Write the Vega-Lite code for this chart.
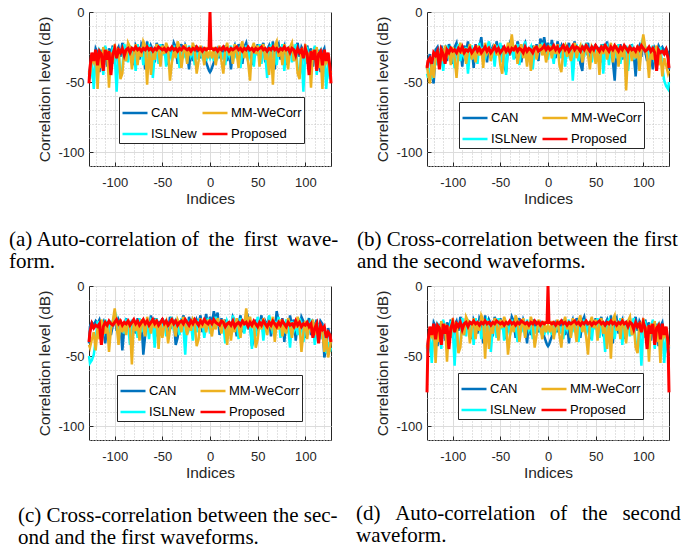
{
"$schema":"https://vega.github.io/schema/vega-lite/v6.json",
"background":"white",
"padding":{"left":8,"top":5,"right":0,"bottom":0},
"config":{
"font":"Liberation Sans",
"view":{"stroke":"#262626","strokeWidth":1},
"line":{"strokeWidth":2.5},
"axis":{"domain":false,"labelFont":"Liberation Sans","labelFontSize":13,"labelColor":"#262626","titleFont":"Liberation Sans","titleFontSize":15.5,"titleFontWeight":"normal","titleColor":"#262626","tickColor":"#262626","tickSize":-4,"gridWidth":1,"labelOverlap":false,"labelFlush":false},
"axisX":{"labelPadding":14,"titlePadding":2},
"axisY":{"labelPadding":9,"titlePadding":5},
"legend":{"strokeColor":"#262626","fillColor":"white","padding":2,"labelFont":"Liberation Sans","labelFontSize":13,"labelColor":"black","symbolType":"stroke","symbolSize":625,"symbolStrokeWidth":3.5,"rowPadding":-6,"columnPadding":0,"labelOffset":2,"gridAlign":"each","cornerRadius":0,"orient":"none","columns":2},
"title":{"font":"Liberation Serif","fontSize":21,"fontWeight":"normal","color":"black","orient":"bottom","anchor":"start","frame":"group","lineHeight":22}
},
"datasets":{
"a":[
{"i":-127,"C":-44,"I":-44,"M":-42,"P":-51},{"i":-126,"C":-41,"I":-48,"M":-45,"P":-40},{"i":-124,"C":-31,"I":-36,"M":-33,"P":-29},{"i":-122,"C":-36,"I":-55,"M":-36,"P":-35},{"i":-120,"C":-26,"I":-31,"M":-28,"P":-27},{"i":-118,"C":-29,"I":-40,"M":-55,"P":-38},{"i":-116,"C":-43,"I":-27,"M":-30,"P":-28},{"i":-114,"C":-27,"I":-29,"M":-40,"P":-30},{"i":-112,"C":-33,"I":-45,"M":-25,"P":-42},{"i":-110,"C":-25,"I":-24,"M":-33,"P":-27},{"i":-108,"C":-39,"I":-33,"M":-27,"P":-34},{"i":-106,"C":-26,"I":-28,"M":-54,"P":-28},{"i":-104,"C":-30,"I":-38,"M":-29,"P":-45},{"i":-102,"C":-24,"I":-25,"M":-36,"P":-30},{"i":-100,"C":-37,"I":-30,"M":-23,"P":-26},{"i":-98,"C":-28,"I":-57,"M":-31,"P":-33},{"i":-96,"C":-25,"I":-27,"M":-26,"P":-27},{"i":-94,"C":-32,"I":-47,"M":-48,"P":-29},{"i":-92,"C":-22,"I":-40,"M":-44,"P":-26},{"i":-90,"C":-26,"I":-23,"M":-28,"P":-31},{"i":-88,"C":-35,"I":-28,"M":-35,"P":-27},{"i":-86,"C":-23,"I":-36,"M":-22,"P":-26},{"i":-84,"C":-30,"I":-24,"M":-25,"P":-29},{"i":-82,"C":-25,"I":-31,"M":-41,"P":-26},{"i":-80,"C":-38,"I":-27,"M":-29,"P":-27},{"i":-78,"C":-24,"I":-42,"M":-23,"P":-25},{"i":-76,"C":-27,"I":-23,"M":-38,"P":-27},{"i":-74,"C":-34,"I":-30,"M":-26,"P":-26},{"i":-72,"C":-23,"I":-25,"M":-32,"P":-28},{"i":-70,"C":-26,"I":-38,"M":-21,"P":-26},{"i":-68,"C":-41,"I":-28,"M":-24,"P":-27},{"i":-66,"C":-21,"I":-33,"M":-52,"P":-25},{"i":-64,"C":-31,"I":-24,"M":-25,"P":-27},{"i":-62,"C":-24,"I":-26,"M":-45,"P":-26},{"i":-60,"C":-27,"I":-47,"M":-29,"P":-28},{"i":-58,"C":-36,"I":-30,"M":-34,"P":-26},{"i":-56,"C":-22,"I":-27,"M":-23,"P":-27},{"i":-54,"C":-26,"I":-37,"M":-27,"P":-25},{"i":-52,"C":-33,"I":-23,"M":-39,"P":-26},{"i":-50,"C":-23,"I":-31,"M":-24,"P":-27},{"i":-48,"C":-29,"I":-25,"M":-30,"P":-26},{"i":-46,"C":-24,"I":-39,"M":-22,"P":-28},{"i":-44,"C":-38,"I":-26,"M":-26,"P":-26},{"i":-42,"C":-26,"I":-28,"M":-49,"P":-27},{"i":-40,"C":-30,"I":-35,"M":-36,"P":-25},{"i":-38,"C":-22,"I":-24,"M":-28,"P":-27},{"i":-36,"C":-25,"I":-30,"M":-33,"P":-26},{"i":-34,"C":-37,"I":-27,"M":-21,"P":-28},{"i":-32,"C":-27,"I":-40,"M":-25,"P":-26},{"i":-30,"C":-23,"I":-25,"M":-40,"P":-27},{"i":-28,"C":-31,"I":-33,"M":-29,"P":-25},{"i":-26,"C":-24,"I":-28,"M":-23,"P":-26},{"i":-24,"C":-28,"I":-36,"M":-37,"P":-27},{"i":-22,"C":-41,"I":-24,"M":-26,"P":-26},{"i":-20,"C":-26,"I":-31,"M":-31,"P":-28},{"i":-18,"C":-35,"I":-27,"M":-22,"P":-26},{"i":-16,"C":-24,"I":-38,"M":-27,"P":-27},{"i":-14,"C":-29,"I":-29,"M":-44,"P":-25},{"i":-12,"C":-25,"I":-34,"M":-35,"P":-27},{"i":-10,"C":-33,"I":-26,"M":-24,"P":-26},{"i":-8,"C":-27,"I":-32,"M":-29,"P":-28},{"i":-6,"C":-31,"I":-28,"M":-38,"P":-26},{"i":-4,"C":-36,"I":-35,"M":-25,"P":-27},{"i":-2,"C":-40,"I":-30,"M":-33,"P":-26},{"i":-1,"C":-42,"I":-31,"M":-30,"P":-26},
{"i":0,"C":-43,"I":-33,"M":-28,"P":0},
{"i":1,"C":-42,"I":-31,"M":-30,"P":-26},{"i":2,"C":-40,"I":-30,"M":-33,"P":-26},{"i":4,"C":-36,"I":-35,"M":-25,"P":-27},{"i":6,"C":-31,"I":-28,"M":-38,"P":-26},{"i":8,"C":-27,"I":-32,"M":-29,"P":-28},{"i":10,"C":-33,"I":-26,"M":-24,"P":-26},{"i":12,"C":-25,"I":-34,"M":-35,"P":-27},{"i":14,"C":-29,"I":-29,"M":-44,"P":-25},{"i":16,"C":-24,"I":-38,"M":-27,"P":-27},{"i":18,"C":-35,"I":-27,"M":-22,"P":-26},{"i":20,"C":-26,"I":-31,"M":-31,"P":-28},{"i":22,"C":-41,"I":-24,"M":-26,"P":-26},{"i":24,"C":-28,"I":-36,"M":-37,"P":-27},{"i":26,"C":-24,"I":-28,"M":-23,"P":-26},{"i":28,"C":-31,"I":-33,"M":-29,"P":-25},{"i":30,"C":-23,"I":-25,"M":-40,"P":-27},{"i":32,"C":-27,"I":-40,"M":-25,"P":-26},{"i":34,"C":-37,"I":-27,"M":-21,"P":-28},{"i":36,"C":-25,"I":-30,"M":-33,"P":-26},{"i":38,"C":-22,"I":-24,"M":-28,"P":-27},{"i":40,"C":-30,"I":-35,"M":-36,"P":-25},{"i":42,"C":-26,"I":-28,"M":-49,"P":-27},{"i":44,"C":-38,"I":-26,"M":-26,"P":-26},{"i":46,"C":-24,"I":-39,"M":-22,"P":-28},{"i":48,"C":-29,"I":-25,"M":-30,"P":-26},{"i":50,"C":-23,"I":-31,"M":-24,"P":-27},{"i":52,"C":-33,"I":-23,"M":-39,"P":-26},{"i":54,"C":-26,"I":-37,"M":-27,"P":-25},{"i":56,"C":-22,"I":-27,"M":-23,"P":-27},{"i":58,"C":-36,"I":-30,"M":-34,"P":-26},{"i":60,"C":-27,"I":-47,"M":-29,"P":-28},{"i":62,"C":-24,"I":-26,"M":-45,"P":-26},{"i":64,"C":-31,"I":-24,"M":-25,"P":-27},{"i":66,"C":-21,"I":-33,"M":-52,"P":-25},{"i":68,"C":-41,"I":-28,"M":-24,"P":-27},{"i":70,"C":-26,"I":-38,"M":-21,"P":-26},{"i":72,"C":-23,"I":-25,"M":-32,"P":-28},{"i":74,"C":-34,"I":-30,"M":-26,"P":-26},{"i":76,"C":-27,"I":-23,"M":-38,"P":-27},{"i":78,"C":-24,"I":-42,"M":-23,"P":-25},{"i":80,"C":-38,"I":-27,"M":-29,"P":-27},{"i":82,"C":-25,"I":-31,"M":-41,"P":-26},{"i":84,"C":-30,"I":-24,"M":-25,"P":-29},{"i":86,"C":-23,"I":-36,"M":-22,"P":-26},{"i":88,"C":-35,"I":-28,"M":-35,"P":-27},{"i":90,"C":-26,"I":-23,"M":-28,"P":-31},{"i":92,"C":-22,"I":-40,"M":-44,"P":-26},{"i":94,"C":-32,"I":-47,"M":-48,"P":-29},{"i":96,"C":-25,"I":-27,"M":-26,"P":-27},{"i":98,"C":-28,"I":-57,"M":-31,"P":-33},{"i":100,"C":-37,"I":-30,"M":-23,"P":-26},{"i":102,"C":-24,"I":-25,"M":-36,"P":-30},{"i":104,"C":-30,"I":-38,"M":-29,"P":-45},{"i":106,"C":-26,"I":-28,"M":-54,"P":-28},{"i":108,"C":-39,"I":-33,"M":-27,"P":-34},{"i":110,"C":-25,"I":-24,"M":-33,"P":-27},{"i":112,"C":-33,"I":-45,"M":-25,"P":-42},{"i":114,"C":-27,"I":-29,"M":-40,"P":-30},{"i":116,"C":-43,"I":-27,"M":-30,"P":-28},{"i":118,"C":-29,"I":-40,"M":-55,"P":-38},{"i":120,"C":-26,"I":-31,"M":-28,"P":-27},{"i":122,"C":-36,"I":-55,"M":-36,"P":-35},{"i":124,"C":-31,"I":-36,"M":-33,"P":-29},{"i":126,"C":-41,"I":-48,"M":-45,"P":-40},{"i":127,"C":-44,"I":-44,"M":-42,"P":-51}
],
"d":[
{"i":-127,"C":-44,"I":-44,"M":-42,"P":-76},{"i":-126,"C":-41,"I":-48,"M":-45,"P":-40},{"i":-124,"C":-31,"I":-36,"M":-33,"P":-29},{"i":-122,"C":-36,"I":-55,"M":-36,"P":-35},{"i":-120,"C":-26,"I":-31,"M":-28,"P":-27},{"i":-118,"C":-29,"I":-40,"M":-55,"P":-38},{"i":-116,"C":-43,"I":-27,"M":-30,"P":-28},{"i":-114,"C":-27,"I":-29,"M":-40,"P":-30},{"i":-112,"C":-33,"I":-45,"M":-25,"P":-42},{"i":-110,"C":-25,"I":-24,"M":-33,"P":-27},{"i":-108,"C":-39,"I":-33,"M":-27,"P":-34},{"i":-106,"C":-26,"I":-28,"M":-54,"P":-28},{"i":-104,"C":-30,"I":-38,"M":-29,"P":-45},{"i":-102,"C":-24,"I":-25,"M":-36,"P":-30},{"i":-100,"C":-37,"I":-30,"M":-23,"P":-26},{"i":-98,"C":-28,"I":-57,"M":-31,"P":-33},{"i":-96,"C":-25,"I":-27,"M":-26,"P":-27},{"i":-94,"C":-32,"I":-47,"M":-48,"P":-29},{"i":-92,"C":-22,"I":-40,"M":-44,"P":-26},{"i":-90,"C":-26,"I":-23,"M":-28,"P":-31},{"i":-88,"C":-35,"I":-28,"M":-35,"P":-27},{"i":-86,"C":-23,"I":-36,"M":-22,"P":-26},{"i":-84,"C":-30,"I":-24,"M":-25,"P":-29},{"i":-82,"C":-25,"I":-31,"M":-41,"P":-26},{"i":-80,"C":-38,"I":-27,"M":-29,"P":-27},{"i":-78,"C":-24,"I":-42,"M":-23,"P":-25},{"i":-76,"C":-27,"I":-23,"M":-38,"P":-27},{"i":-74,"C":-34,"I":-30,"M":-26,"P":-26},{"i":-72,"C":-23,"I":-25,"M":-32,"P":-28},{"i":-70,"C":-26,"I":-38,"M":-21,"P":-26},{"i":-68,"C":-41,"I":-28,"M":-24,"P":-27},{"i":-66,"C":-21,"I":-33,"M":-52,"P":-25},{"i":-64,"C":-31,"I":-24,"M":-25,"P":-27},{"i":-62,"C":-24,"I":-26,"M":-45,"P":-26},{"i":-60,"C":-27,"I":-47,"M":-29,"P":-28},{"i":-58,"C":-36,"I":-30,"M":-34,"P":-26},{"i":-56,"C":-22,"I":-27,"M":-23,"P":-27},{"i":-54,"C":-26,"I":-37,"M":-27,"P":-25},{"i":-52,"C":-33,"I":-23,"M":-39,"P":-26},{"i":-50,"C":-23,"I":-31,"M":-24,"P":-27},{"i":-48,"C":-29,"I":-25,"M":-30,"P":-26},{"i":-46,"C":-24,"I":-39,"M":-22,"P":-28},{"i":-44,"C":-38,"I":-26,"M":-26,"P":-26},{"i":-42,"C":-26,"I":-28,"M":-49,"P":-27},{"i":-40,"C":-30,"I":-35,"M":-36,"P":-25},{"i":-38,"C":-22,"I":-24,"M":-28,"P":-27},{"i":-36,"C":-25,"I":-30,"M":-33,"P":-26},{"i":-34,"C":-37,"I":-27,"M":-21,"P":-28},{"i":-32,"C":-27,"I":-40,"M":-25,"P":-26},{"i":-30,"C":-23,"I":-25,"M":-40,"P":-27},{"i":-28,"C":-31,"I":-33,"M":-29,"P":-25},{"i":-26,"C":-24,"I":-28,"M":-23,"P":-26},{"i":-24,"C":-28,"I":-36,"M":-37,"P":-27},{"i":-22,"C":-41,"I":-24,"M":-26,"P":-26},{"i":-20,"C":-26,"I":-31,"M":-31,"P":-28},{"i":-18,"C":-35,"I":-27,"M":-22,"P":-26},{"i":-16,"C":-24,"I":-38,"M":-27,"P":-27},{"i":-14,"C":-29,"I":-29,"M":-44,"P":-25},{"i":-12,"C":-25,"I":-34,"M":-35,"P":-27},{"i":-10,"C":-33,"I":-26,"M":-24,"P":-26},{"i":-8,"C":-27,"I":-32,"M":-29,"P":-28},{"i":-6,"C":-31,"I":-28,"M":-38,"P":-26},{"i":-4,"C":-36,"I":-35,"M":-25,"P":-27},{"i":-2,"C":-40,"I":-30,"M":-33,"P":-26},{"i":-1,"C":-42,"I":-31,"M":-30,"P":-26},
{"i":0,"C":-43,"I":-33,"M":-28,"P":0},
{"i":1,"C":-42,"I":-31,"M":-30,"P":-26},{"i":2,"C":-40,"I":-30,"M":-33,"P":-26},{"i":4,"C":-36,"I":-35,"M":-25,"P":-27},{"i":6,"C":-31,"I":-28,"M":-38,"P":-26},{"i":8,"C":-27,"I":-32,"M":-29,"P":-28},{"i":10,"C":-33,"I":-26,"M":-24,"P":-26},{"i":12,"C":-25,"I":-34,"M":-35,"P":-27},{"i":14,"C":-29,"I":-29,"M":-44,"P":-25},{"i":16,"C":-24,"I":-38,"M":-27,"P":-27},{"i":18,"C":-35,"I":-27,"M":-22,"P":-26},{"i":20,"C":-26,"I":-31,"M":-31,"P":-28},{"i":22,"C":-41,"I":-24,"M":-26,"P":-26},{"i":24,"C":-28,"I":-36,"M":-37,"P":-27},{"i":26,"C":-24,"I":-28,"M":-23,"P":-26},{"i":28,"C":-31,"I":-33,"M":-29,"P":-25},{"i":30,"C":-23,"I":-25,"M":-40,"P":-27},{"i":32,"C":-27,"I":-40,"M":-25,"P":-26},{"i":34,"C":-37,"I":-27,"M":-21,"P":-28},{"i":36,"C":-25,"I":-30,"M":-33,"P":-26},{"i":38,"C":-22,"I":-24,"M":-28,"P":-27},{"i":40,"C":-30,"I":-35,"M":-36,"P":-25},{"i":42,"C":-26,"I":-28,"M":-49,"P":-27},{"i":44,"C":-38,"I":-26,"M":-26,"P":-26},{"i":46,"C":-24,"I":-39,"M":-22,"P":-28},{"i":48,"C":-29,"I":-25,"M":-30,"P":-26},{"i":50,"C":-23,"I":-31,"M":-24,"P":-27},{"i":52,"C":-33,"I":-23,"M":-39,"P":-26},{"i":54,"C":-26,"I":-37,"M":-27,"P":-25},{"i":56,"C":-22,"I":-27,"M":-23,"P":-27},{"i":58,"C":-36,"I":-30,"M":-34,"P":-26},{"i":60,"C":-27,"I":-47,"M":-29,"P":-28},{"i":62,"C":-24,"I":-26,"M":-45,"P":-26},{"i":64,"C":-31,"I":-24,"M":-25,"P":-27},{"i":66,"C":-21,"I":-33,"M":-52,"P":-25},{"i":68,"C":-41,"I":-28,"M":-24,"P":-27},{"i":70,"C":-26,"I":-38,"M":-21,"P":-26},{"i":72,"C":-23,"I":-25,"M":-32,"P":-28},{"i":74,"C":-34,"I":-30,"M":-26,"P":-26},{"i":76,"C":-27,"I":-23,"M":-38,"P":-27},{"i":78,"C":-24,"I":-42,"M":-23,"P":-25},{"i":80,"C":-38,"I":-27,"M":-29,"P":-27},{"i":82,"C":-25,"I":-31,"M":-41,"P":-26},{"i":84,"C":-30,"I":-24,"M":-25,"P":-29},{"i":86,"C":-23,"I":-36,"M":-22,"P":-26},{"i":88,"C":-35,"I":-28,"M":-35,"P":-27},{"i":90,"C":-26,"I":-23,"M":-28,"P":-31},{"i":92,"C":-22,"I":-40,"M":-44,"P":-26},{"i":94,"C":-32,"I":-47,"M":-48,"P":-29},{"i":96,"C":-25,"I":-27,"M":-26,"P":-27},{"i":98,"C":-28,"I":-57,"M":-31,"P":-33},{"i":100,"C":-37,"I":-30,"M":-23,"P":-26},{"i":102,"C":-24,"I":-25,"M":-36,"P":-30},{"i":104,"C":-30,"I":-38,"M":-29,"P":-45},{"i":106,"C":-26,"I":-28,"M":-54,"P":-28},{"i":108,"C":-39,"I":-33,"M":-27,"P":-34},{"i":110,"C":-25,"I":-24,"M":-33,"P":-27},{"i":112,"C":-33,"I":-45,"M":-25,"P":-42},{"i":114,"C":-27,"I":-29,"M":-40,"P":-30},{"i":116,"C":-43,"I":-27,"M":-30,"P":-28},{"i":118,"C":-29,"I":-40,"M":-55,"P":-38},{"i":120,"C":-26,"I":-31,"M":-28,"P":-27},{"i":122,"C":-36,"I":-55,"M":-36,"P":-35},{"i":124,"C":-31,"I":-36,"M":-33,"P":-29},{"i":126,"C":-41,"I":-48,"M":-45,"P":-40},{"i":127,"C":-44,"I":-44,"M":-42,"P":-76}
],
"b":[
{"i":-127,"C":-41,"I":-44,"M":-38,"P":-40},{"i":-126,"C":-36,"I":-47,"M":-44,"P":-35},{"i":-124,"C":-30,"I":-40,"M":-51,"P":-33},{"i":-122,"C":-45,"I":-48,"M":-36,"P":-37},{"i":-120,"C":-51,"I":-35,"M":-47,"P":-29},{"i":-118,"C":-27,"I":-30,"M":-33,"P":-31},{"i":-116,"C":-25,"I":-38,"M":-28,"P":-28},{"i":-114,"C":-33,"I":-27,"M":-40,"P":-41},{"i":-112,"C":-24,"I":-31,"M":-26,"P":-27},{"i":-110,"C":-29,"I":-42,"M":-35,"P":-30},{"i":-108,"C":-26,"I":-28,"M":-24,"P":-37},{"i":-106,"C":-35,"I":-24,"M":-31,"P":-27},{"i":-104,"C":-23,"I":-33,"M":-27,"P":-29},{"i":-102,"C":-28,"I":-26,"M":-38,"P":-26},{"i":-100,"C":-37,"I":-30,"M":-25,"P":-28},{"i":-98,"C":-25,"I":-40,"M":-33,"P":-27},{"i":-96,"C":-22,"I":-27,"M":-47,"P":-29},{"i":-94,"C":-31,"I":-23,"M":-29,"P":-26},{"i":-92,"C":-26,"I":-35,"M":-22,"P":-28},{"i":-90,"C":-39,"I":-28,"M":-30,"P":-25},{"i":-88,"C":-24,"I":-32,"M":-26,"P":-29},{"i":-86,"C":-28,"I":-25,"M":-37,"P":-27},{"i":-84,"C":-21,"I":-44,"M":-28,"P":-28},{"i":-82,"C":-33,"I":-29,"M":-23,"P":-26},{"i":-80,"C":-26,"I":-24,"M":-34,"P":-29},{"i":-78,"C":-40,"I":-31,"M":-27,"P":-27},{"i":-76,"C":-23,"I":-27,"M":-36,"P":-25},{"i":-74,"C":-29,"I":-37,"M":-24,"P":-28},{"i":-72,"C":-25,"I":-22,"M":-31,"P":-26},{"i":-70,"C":-18,"I":-30,"M":-26,"P":-29},{"i":-68,"C":-31,"I":-25,"M":-40,"P":-27},{"i":-66,"C":-24,"I":-34,"M":-22,"P":-25},{"i":-64,"C":-36,"I":-27,"M":-29,"P":-28},{"i":-62,"C":-22,"I":-21,"M":-25,"P":-26},{"i":-60,"C":-28,"I":-33,"M":-35,"P":-29},{"i":-58,"C":-25,"I":-26,"M":-28,"P":-27},{"i":-56,"C":-34,"I":-39,"M":-23,"P":-25},{"i":-54,"C":-21,"I":-24,"M":-31,"P":-28},{"i":-52,"C":-27,"I":-29,"M":-26,"P":-26},{"i":-50,"C":-30,"I":-22,"M":-38,"P":-29},{"i":-48,"C":-24,"I":-36,"M":-44,"P":-27},{"i":-46,"C":-38,"I":-28,"M":-25,"P":-25},{"i":-44,"C":-43,"I":-45,"M":-30,"P":-28},{"i":-42,"C":-26,"I":-25,"M":-22,"P":-26},{"i":-40,"C":-22,"I":-31,"M":-27,"P":-29},{"i":-38,"C":-29,"I":-24,"M":-16,"P":-26},{"i":-36,"C":-24,"I":-34,"M":-28,"P":-27},{"i":-34,"C":-33,"I":-27,"M":-24,"P":-25},{"i":-32,"C":-21,"I":-23,"M":-37,"P":-28},{"i":-30,"C":-27,"I":-38,"M":-29,"P":-26},{"i":-28,"C":-36,"I":-26,"M":-23,"P":-27},{"i":-26,"C":-25,"I":-30,"M":-33,"P":-29},{"i":-24,"C":-22,"I":-21,"M":-27,"P":-25},{"i":-22,"C":-31,"I":-33,"M":-39,"P":-28},{"i":-20,"C":-26,"I":-28,"M":-25,"P":-26},{"i":-18,"C":-38,"I":-25,"M":-42,"P":-27},{"i":-16,"C":-24,"I":-41,"M":-28,"P":-29},{"i":-14,"C":-29,"I":-27,"M":-24,"P":-26},{"i":-12,"C":-23,"I":-32,"M":-34,"P":-25},{"i":-10,"C":-35,"I":-24,"M":-27,"P":-28},{"i":-8,"C":-19,"I":-29,"M":-23,"P":-27},{"i":-6,"C":-24,"I":-22,"M":-31,"P":-26},{"i":-4,"C":-18,"I":-30,"M":-26,"P":-24},{"i":-2,"C":-27,"I":-25,"M":-36,"P":-27},{"i":0,"C":-22,"I":-34,"M":-29,"P":-25},{"i":2,"C":-30,"I":-23,"M":-24,"P":-27},{"i":4,"C":-20,"I":-28,"M":-33,"P":-26},{"i":6,"C":-26,"I":-37,"M":-25,"P":-24},{"i":8,"C":-33,"I":-25,"M":-30,"P":-27},{"i":10,"C":-21,"I":-30,"M":-23,"P":-25},{"i":12,"C":-27,"I":-24,"M":-38,"P":-28},{"i":14,"C":-24,"I":-33,"M":-43,"P":-26},{"i":16,"C":-31,"I":-26,"M":-27,"P":-24},{"i":18,"C":-23,"I":-39,"M":-24,"P":-27},{"i":20,"C":-28,"I":-27,"M":-32,"P":-25},{"i":22,"C":-22,"I":-31,"M":-26,"P":-28},{"i":24,"C":-34,"I":-24,"M":-35,"P":-26},{"i":26,"C":-26,"I":-49,"M":-28,"P":-24},{"i":28,"C":-21,"I":-29,"M":-22,"P":-27},{"i":30,"C":-30,"I":-23,"M":-33,"P":-25},{"i":32,"C":-25,"I":-35,"M":-27,"P":-26},{"i":34,"C":-37,"I":-28,"M":-24,"P":-28},{"i":36,"C":-42,"I":-25,"M":-36,"P":-25},{"i":38,"C":-24,"I":-32,"M":-29,"P":-27},{"i":40,"C":-28,"I":-22,"M":-23,"P":-24},{"i":42,"C":-22,"I":-30,"M":-31,"P":-26},{"i":44,"C":-33,"I":-26,"M":-41,"P":-28},{"i":46,"C":-26,"I":-36,"M":-25,"P":-25},{"i":48,"C":-29,"I":-24,"M":-28,"P":-27},{"i":50,"C":-23,"I":-31,"M":-37,"P":-24},{"i":52,"C":-31,"I":-27,"M":-26,"P":-26},{"i":54,"C":-25,"I":-35,"M":-45,"P":-28},{"i":56,"C":-36,"I":-23,"M":-24,"P":-25},{"i":58,"C":-23,"I":-44,"M":-30,"P":-27},{"i":60,"C":-28,"I":-28,"M":-23,"P":-24},{"i":62,"C":-21,"I":-25,"M":-34,"P":-26},{"i":64,"C":-32,"I":-38,"M":-27,"P":-28},{"i":66,"C":-26,"I":-24,"M":-22,"P":-25},{"i":68,"C":-35,"I":-30,"M":-36,"P":-27},{"i":70,"C":-49,"I":-26,"M":-28,"P":-24},{"i":72,"C":-24,"I":-33,"M":-24,"P":-26},{"i":74,"C":-29,"I":-23,"M":-39,"P":-28},{"i":76,"C":-23,"I":-37,"M":-27,"P":-25},{"i":78,"C":-34,"I":-27,"M":-32,"P":-27},{"i":80,"C":-27,"I":-31,"M":-25,"P":-24},{"i":82,"C":-38,"I":-24,"M":-56,"P":-26},{"i":84,"C":-25,"I":-42,"M":-29,"P":-28},{"i":86,"C":-31,"I":-28,"M":-24,"P":-25},{"i":88,"C":-23,"I":-25,"M":-35,"P":-27},{"i":90,"C":-30,"I":-34,"M":-27,"P":-26},{"i":92,"C":-46,"I":-26,"M":-33,"P":-28},{"i":94,"C":-27,"I":-30,"M":-24,"P":-25},{"i":96,"C":-24,"I":-37,"M":-42,"P":-27},{"i":98,"C":-32,"I":-23,"M":-28,"P":-24},{"i":100,"C":-22,"I":-18,"M":-16,"P":-26},{"i":102,"C":-28,"I":-29,"M":-25,"P":-28},{"i":104,"C":-35,"I":-25,"M":-31,"P":-27},{"i":106,"C":-25,"I":-33,"M":-47,"P":-25},{"i":108,"C":-30,"I":-28,"M":-26,"P":-28},{"i":110,"C":-41,"I":-24,"M":-34,"P":-26},{"i":112,"C":-26,"I":-36,"M":-29,"P":-29},{"i":114,"C":-29,"I":-27,"M":-24,"P":-42},{"i":116,"C":-24,"I":-31,"M":-38,"P":-27},{"i":118,"C":-27,"I":-25,"M":-30,"P":-29},{"i":120,"C":-25,"I":-39,"M":-46,"P":-28},{"i":122,"C":-28,"I":-49,"M":-33,"P":-30},{"i":124,"C":-26,"I":-53,"M":-38,"P":-27},{"i":126,"C":-29,"I":-55,"M":-44,"P":-33},{"i":127,"C":-41,"I":-50,"M":-42,"P":-40}
],
"c":[
{"i":-127,"C":-41,"I":-50,"M":-42,"P":-40},{"i":-126,"C":-29,"I":-55,"M":-44,"P":-33},{"i":-124,"C":-26,"I":-53,"M":-38,"P":-27},{"i":-122,"C":-28,"I":-49,"M":-33,"P":-30},{"i":-120,"C":-25,"I":-39,"M":-46,"P":-28},{"i":-118,"C":-27,"I":-25,"M":-30,"P":-29},{"i":-116,"C":-24,"I":-31,"M":-38,"P":-27},{"i":-114,"C":-29,"I":-27,"M":-24,"P":-42},{"i":-112,"C":-26,"I":-36,"M":-29,"P":-29},{"i":-110,"C":-41,"I":-24,"M":-34,"P":-26},{"i":-108,"C":-30,"I":-28,"M":-26,"P":-28},{"i":-106,"C":-25,"I":-33,"M":-47,"P":-25},{"i":-104,"C":-35,"I":-25,"M":-31,"P":-27},{"i":-102,"C":-28,"I":-29,"M":-25,"P":-28},{"i":-100,"C":-22,"I":-18,"M":-16,"P":-26},{"i":-98,"C":-32,"I":-23,"M":-28,"P":-24},{"i":-96,"C":-24,"I":-37,"M":-42,"P":-27},{"i":-94,"C":-27,"I":-30,"M":-24,"P":-25},{"i":-92,"C":-46,"I":-26,"M":-33,"P":-28},{"i":-90,"C":-30,"I":-34,"M":-27,"P":-26},{"i":-88,"C":-23,"I":-25,"M":-35,"P":-27},{"i":-86,"C":-31,"I":-28,"M":-24,"P":-25},{"i":-84,"C":-25,"I":-42,"M":-29,"P":-28},{"i":-82,"C":-38,"I":-24,"M":-56,"P":-26},{"i":-80,"C":-27,"I":-31,"M":-25,"P":-24},{"i":-78,"C":-34,"I":-27,"M":-32,"P":-27},{"i":-76,"C":-23,"I":-37,"M":-27,"P":-25},{"i":-74,"C":-29,"I":-23,"M":-39,"P":-28},{"i":-72,"C":-24,"I":-33,"M":-24,"P":-26},{"i":-70,"C":-49,"I":-26,"M":-28,"P":-24},{"i":-68,"C":-35,"I":-30,"M":-36,"P":-27},{"i":-66,"C":-26,"I":-24,"M":-22,"P":-25},{"i":-64,"C":-32,"I":-38,"M":-27,"P":-28},{"i":-62,"C":-21,"I":-25,"M":-34,"P":-26},{"i":-60,"C":-28,"I":-28,"M":-23,"P":-24},{"i":-58,"C":-23,"I":-44,"M":-30,"P":-27},{"i":-56,"C":-36,"I":-23,"M":-24,"P":-25},{"i":-54,"C":-25,"I":-35,"M":-45,"P":-28},{"i":-52,"C":-31,"I":-27,"M":-26,"P":-26},{"i":-50,"C":-23,"I":-31,"M":-37,"P":-24},{"i":-48,"C":-29,"I":-24,"M":-28,"P":-27},{"i":-46,"C":-26,"I":-36,"M":-25,"P":-25},{"i":-44,"C":-33,"I":-26,"M":-41,"P":-28},{"i":-42,"C":-22,"I":-30,"M":-31,"P":-26},{"i":-40,"C":-28,"I":-22,"M":-23,"P":-24},{"i":-38,"C":-24,"I":-32,"M":-29,"P":-27},{"i":-36,"C":-42,"I":-25,"M":-36,"P":-25},{"i":-34,"C":-37,"I":-28,"M":-24,"P":-28},{"i":-32,"C":-25,"I":-35,"M":-27,"P":-26},{"i":-30,"C":-30,"I":-23,"M":-33,"P":-25},{"i":-28,"C":-21,"I":-29,"M":-22,"P":-27},{"i":-26,"C":-26,"I":-49,"M":-28,"P":-24},{"i":-24,"C":-34,"I":-24,"M":-35,"P":-26},{"i":-22,"C":-22,"I":-31,"M":-26,"P":-28},{"i":-20,"C":-28,"I":-27,"M":-32,"P":-25},{"i":-18,"C":-23,"I":-39,"M":-24,"P":-27},{"i":-16,"C":-31,"I":-26,"M":-27,"P":-24},{"i":-14,"C":-24,"I":-33,"M":-43,"P":-26},{"i":-12,"C":-27,"I":-24,"M":-38,"P":-28},{"i":-10,"C":-21,"I":-30,"M":-23,"P":-25},{"i":-8,"C":-33,"I":-25,"M":-30,"P":-27},{"i":-6,"C":-26,"I":-37,"M":-25,"P":-24},{"i":-4,"C":-20,"I":-28,"M":-33,"P":-26},{"i":-2,"C":-30,"I":-23,"M":-24,"P":-27},{"i":0,"C":-22,"I":-34,"M":-29,"P":-25},{"i":2,"C":-27,"I":-25,"M":-36,"P":-27},{"i":4,"C":-18,"I":-30,"M":-26,"P":-24},{"i":6,"C":-24,"I":-22,"M":-31,"P":-26},{"i":8,"C":-19,"I":-29,"M":-23,"P":-27},{"i":10,"C":-35,"I":-24,"M":-27,"P":-28},{"i":12,"C":-23,"I":-32,"M":-34,"P":-25},{"i":14,"C":-29,"I":-27,"M":-24,"P":-26},{"i":16,"C":-24,"I":-41,"M":-28,"P":-29},{"i":18,"C":-38,"I":-25,"M":-42,"P":-27},{"i":20,"C":-26,"I":-28,"M":-25,"P":-26},{"i":22,"C":-31,"I":-33,"M":-39,"P":-28},{"i":24,"C":-22,"I":-21,"M":-27,"P":-25},{"i":26,"C":-25,"I":-30,"M":-33,"P":-29},{"i":28,"C":-36,"I":-26,"M":-23,"P":-27},{"i":30,"C":-27,"I":-38,"M":-29,"P":-26},{"i":32,"C":-21,"I":-23,"M":-37,"P":-28},{"i":34,"C":-33,"I":-27,"M":-24,"P":-25},{"i":36,"C":-24,"I":-34,"M":-28,"P":-27},{"i":38,"C":-29,"I":-24,"M":-16,"P":-26},{"i":40,"C":-22,"I":-31,"M":-27,"P":-29},{"i":42,"C":-26,"I":-25,"M":-22,"P":-26},{"i":44,"C":-43,"I":-45,"M":-30,"P":-28},{"i":46,"C":-38,"I":-28,"M":-25,"P":-25},{"i":48,"C":-24,"I":-36,"M":-44,"P":-27},{"i":50,"C":-30,"I":-22,"M":-38,"P":-29},{"i":52,"C":-27,"I":-29,"M":-26,"P":-26},{"i":54,"C":-21,"I":-24,"M":-31,"P":-28},{"i":56,"C":-34,"I":-39,"M":-23,"P":-25},{"i":58,"C":-25,"I":-26,"M":-28,"P":-27},{"i":60,"C":-28,"I":-33,"M":-35,"P":-29},{"i":62,"C":-22,"I":-21,"M":-25,"P":-26},{"i":64,"C":-36,"I":-27,"M":-29,"P":-28},{"i":66,"C":-24,"I":-34,"M":-22,"P":-25},{"i":68,"C":-31,"I":-25,"M":-40,"P":-27},{"i":70,"C":-18,"I":-30,"M":-26,"P":-29},{"i":72,"C":-25,"I":-22,"M":-31,"P":-26},{"i":74,"C":-29,"I":-37,"M":-24,"P":-28},{"i":76,"C":-23,"I":-27,"M":-36,"P":-25},{"i":78,"C":-40,"I":-31,"M":-27,"P":-27},{"i":80,"C":-26,"I":-24,"M":-34,"P":-29},{"i":82,"C":-33,"I":-29,"M":-23,"P":-26},{"i":84,"C":-21,"I":-44,"M":-28,"P":-28},{"i":86,"C":-28,"I":-25,"M":-37,"P":-27},{"i":88,"C":-24,"I":-32,"M":-26,"P":-29},{"i":90,"C":-39,"I":-28,"M":-30,"P":-25},{"i":92,"C":-26,"I":-35,"M":-22,"P":-28},{"i":94,"C":-31,"I":-23,"M":-29,"P":-26},{"i":96,"C":-22,"I":-27,"M":-47,"P":-29},{"i":98,"C":-25,"I":-40,"M":-33,"P":-27},{"i":100,"C":-37,"I":-30,"M":-25,"P":-28},{"i":102,"C":-28,"I":-26,"M":-38,"P":-26},{"i":104,"C":-23,"I":-33,"M":-27,"P":-29},{"i":106,"C":-35,"I":-24,"M":-31,"P":-27},{"i":108,"C":-26,"I":-28,"M":-24,"P":-37},{"i":110,"C":-29,"I":-42,"M":-35,"P":-30},{"i":112,"C":-24,"I":-31,"M":-26,"P":-27},{"i":114,"C":-33,"I":-27,"M":-40,"P":-41},{"i":116,"C":-25,"I":-38,"M":-28,"P":-28},{"i":118,"C":-27,"I":-30,"M":-33,"P":-31},{"i":120,"C":-51,"I":-35,"M":-47,"P":-29},{"i":122,"C":-45,"I":-48,"M":-36,"P":-37},{"i":124,"C":-30,"I":-40,"M":-51,"P":-33},{"i":126,"C":-36,"I":-47,"M":-44,"P":-35},{"i":127,"C":-41,"I":-44,"M":-38,"P":-40}
]
},
"bounds":"flush",
"columns":2,
"spacing":{"row":120,"column":96},
"resolve":{"scale":{"color":"independent"},"legend":{"color":"independent"}},
"concat":[
{"width":242,"height":154,"data":{"name":"a"},
"title":{"text":["(a) Auto-correlation of\u2009 the\u2009 first\u2009 wave-","form."],"dx":-80,"offset":22},
"transform":[{"fold":["C","I","M","P"],"as":["s","v"]}],
"encoding":{
"x":{"field":"i","type":"quantitative","scale":{"domain":[-127,127],"nice":false,"zero":false},"axis":{"title":"Indices","values":[-120,-110,-100,-90,-80,-70,-60,-50,-40,-30,-20,-10,0,10,20,30,40,50,60,70,80,90,100,110,120],"labelExpr":"datum.value % 50 === 0 ? '' + datum.value : ''","gridDash":{"condition":{"test":"datum.value % 50 === 0","value":[]},"value":[1,2]},"gridColor":{"condition":{"test":"datum.value % 50 === 0","value":"#dcdcdc"},"value":"#c4c4c4"},"tickOpacity":{"condition":{"test":"datum.value % 50 === 0","value":1},"value":0}}},
"y":{"field":"v","type":"quantitative","scale":{"domain":[-110,0],"nice":false,"zero":false},"axis":{"title":"Correlation level (dB)","values":[-110,-100,-90,-80,-70,-60,-50,-40,-30,-20,-10,0],"labelExpr":"datum.value % 50 === 0 ? '' + datum.value : ''","gridDash":{"condition":{"test":"datum.value % 50 === 0","value":[]},"value":[1,2]},"gridColor":{"condition":{"test":"datum.value % 50 === 0","value":"#dcdcdc"},"value":"#c4c4c4"},"tickOpacity":{"condition":{"test":"datum.value % 50 === 0","value":1},"value":0}}},
"color":{"field":"s","type":"nominal","scale":{"domain":["C","I","M","P"],"range":["#0072BD","#00FFFF","#EDB120","#FF0000"]},"legend":{"title":null,"legendX":30,"legendY":85,"labelExpr":"datum.label === 'C' ? 'CAN' : datum.label === 'M' ? 'MM-WeCorr' : datum.label === 'I' ? 'ISLNew' : 'Proposed'"}}
},
"layer":[
{"transform":[{"filter":"datum.s === 'C'"}],"mark":{"type":"line"},"encoding":{}},
{"transform":[{"filter":"datum.s === 'I'"}],"mark":{"type":"line"},"encoding":{}},
{"transform":[{"filter":"datum.s === 'M'"}],"mark":{"type":"line"},"encoding":{}},
{"transform":[{"filter":"datum.s === 'P'"}],"mark":{"type":"line","strokeWidth":3},"encoding":{}}
]},
{"width":242,"height":154,"data":{"name":"b"},
"title":{"text":["(b) Cross-correlation between the first","\u2002and the second waveforms."],"dx":-70,"offset":22},
"transform":[{"fold":["C","I","M","P"],"as":["s","v"]}],
"encoding":{
"x":{"field":"i","type":"quantitative","scale":{"domain":[-127,127],"nice":false,"zero":false},"axis":{"title":"Indices","values":[-120,-110,-100,-90,-80,-70,-60,-50,-40,-30,-20,-10,0,10,20,30,40,50,60,70,80,90,100,110,120],"labelExpr":"datum.value % 50 === 0 ? '' + datum.value : ''","gridDash":{"condition":{"test":"datum.value % 50 === 0","value":[]},"value":[1,2]},"gridColor":{"condition":{"test":"datum.value % 50 === 0","value":"#dcdcdc"},"value":"#c4c4c4"},"tickOpacity":{"condition":{"test":"datum.value % 50 === 0","value":1},"value":0}}},
"y":{"field":"v","type":"quantitative","scale":{"domain":[-110,0],"nice":false,"zero":false},"axis":{"title":"Correlation level (dB)","values":[-110,-100,-90,-80,-70,-60,-50,-40,-30,-20,-10,0],"labelExpr":"datum.value % 50 === 0 ? '' + datum.value : ''","gridDash":{"condition":{"test":"datum.value % 50 === 0","value":[]},"value":[1,2]},"gridColor":{"condition":{"test":"datum.value % 50 === 0","value":"#dcdcdc"},"value":"#c4c4c4"},"tickOpacity":{"condition":{"test":"datum.value % 50 === 0","value":1},"value":0}}},
"color":{"field":"s","type":"nominal","scale":{"domain":["C","I","M","P"],"range":["#0072BD","#00FFFF","#EDB120","#FF0000"]},"legend":{"title":null,"legendX":32,"legendY":90,"labelExpr":"datum.label === 'C' ? 'CAN' : datum.label === 'M' ? 'MM-WeCorr' : datum.label === 'I' ? 'ISLNew' : 'Proposed'"}}
},
"layer":[
{"transform":[{"filter":"datum.s === 'C'"}],"mark":{"type":"line"},"encoding":{}},
{"transform":[{"filter":"datum.s === 'I'"}],"mark":{"type":"line"},"encoding":{}},
{"transform":[{"filter":"datum.s === 'M'"}],"mark":{"type":"line"},"encoding":{}},
{"transform":[{"filter":"datum.s === 'P'"}],"mark":{"type":"line","strokeWidth":3},"encoding":{}}
]},
{"width":242,"height":154,"data":{"name":"c"},
"title":{"text":["(c) Cross-correlation between the sec-","ond and the first waveforms."],"dx":-71,"offset":24},
"transform":[{"fold":["C","I","M","P"],"as":["s","v"]}],
"encoding":{
"x":{"field":"i","type":"quantitative","scale":{"domain":[-127,127],"nice":false,"zero":false},"axis":{"title":"Indices","values":[-120,-110,-100,-90,-80,-70,-60,-50,-40,-30,-20,-10,0,10,20,30,40,50,60,70,80,90,100,110,120],"labelExpr":"datum.value % 50 === 0 ? '' + datum.value : ''","gridDash":{"condition":{"test":"datum.value % 50 === 0","value":[]},"value":[1,2]},"gridColor":{"condition":{"test":"datum.value % 50 === 0","value":"#dcdcdc"},"value":"#c4c4c4"},"tickOpacity":{"condition":{"test":"datum.value % 50 === 0","value":1},"value":0}}},
"y":{"field":"v","type":"quantitative","scale":{"domain":[-110,0],"nice":false,"zero":false},"axis":{"title":"Correlation level (dB)","values":[-110,-100,-90,-80,-70,-60,-50,-40,-30,-20,-10,0],"labelExpr":"datum.value % 50 === 0 ? '' + datum.value : ''","gridDash":{"condition":{"test":"datum.value % 50 === 0","value":[]},"value":[1,2]},"gridColor":{"condition":{"test":"datum.value % 50 === 0","value":"#dcdcdc"},"value":"#c4c4c4"},"tickOpacity":{"condition":{"test":"datum.value % 50 === 0","value":1},"value":0}}},
"color":{"field":"s","type":"nominal","scale":{"domain":["C","I","M","P"],"range":["#0072BD","#00FFFF","#EDB120","#FF0000"]},"legend":{"title":null,"legendX":28,"legendY":89,"labelExpr":"datum.label === 'C' ? 'CAN' : datum.label === 'M' ? 'MM-WeCorr' : datum.label === 'I' ? 'ISLNew' : 'Proposed'"}}
},
"layer":[
{"transform":[{"filter":"datum.s === 'C'"}],"mark":{"type":"line"},"encoding":{}},
{"transform":[{"filter":"datum.s === 'I'"}],"mark":{"type":"line"},"encoding":{}},
{"transform":[{"filter":"datum.s === 'M'"}],"mark":{"type":"line"},"encoding":{}},
{"transform":[{"filter":"datum.s === 'P'"}],"mark":{"type":"line","strokeWidth":3},"encoding":{}}
]},
{"width":242,"height":154,"data":{"name":"d"},
"title":{"text":["(d)\u2002\u2009Auto-correlation\u2002\u2009of\u2002\u2009the\u2002\u2009second","waveform."],"dx":-71,"offset":22},
"transform":[{"fold":["C","I","M","P"],"as":["s","v"]}],
"encoding":{
"x":{"field":"i","type":"quantitative","scale":{"domain":[-127,127],"nice":false,"zero":false},"axis":{"title":"Indices","values":[-120,-110,-100,-90,-80,-70,-60,-50,-40,-30,-20,-10,0,10,20,30,40,50,60,70,80,90,100,110,120],"labelExpr":"datum.value % 50 === 0 ? '' + datum.value : ''","gridDash":{"condition":{"test":"datum.value % 50 === 0","value":[]},"value":[1,2]},"gridColor":{"condition":{"test":"datum.value % 50 === 0","value":"#dcdcdc"},"value":"#c4c4c4"},"tickOpacity":{"condition":{"test":"datum.value % 50 === 0","value":1},"value":0}}},
"y":{"field":"v","type":"quantitative","scale":{"domain":[-110,0],"nice":false,"zero":false},"axis":{"title":"Correlation level (dB)","values":[-110,-100,-90,-80,-70,-60,-50,-40,-30,-20,-10,0],"labelExpr":"datum.value % 50 === 0 ? '' + datum.value : ''","gridDash":{"condition":{"test":"datum.value % 50 === 0","value":[]},"value":[1,2]},"gridColor":{"condition":{"test":"datum.value % 50 === 0","value":"#dcdcdc"},"value":"#c4c4c4"},"tickOpacity":{"condition":{"test":"datum.value % 50 === 0","value":1},"value":0}}},
"color":{"field":"s","type":"nominal","scale":{"domain":["C","I","M","P"],"range":["#0072BD","#00FFFF","#EDB120","#FF0000"]},"legend":{"title":null,"legendX":31,"legendY":87,"labelExpr":"datum.label === 'C' ? 'CAN' : datum.label === 'M' ? 'MM-WeCorr' : datum.label === 'I' ? 'ISLNew' : 'Proposed'"}}
},
"layer":[
{"transform":[{"filter":"datum.s === 'C'"}],"mark":{"type":"line"},"encoding":{}},
{"transform":[{"filter":"datum.s === 'I'"}],"mark":{"type":"line"},"encoding":{}},
{"transform":[{"filter":"datum.s === 'M'"}],"mark":{"type":"line"},"encoding":{}},
{"transform":[{"filter":"datum.s === 'P'"}],"mark":{"type":"line","strokeWidth":3},"encoding":{}}
]}
]
}
